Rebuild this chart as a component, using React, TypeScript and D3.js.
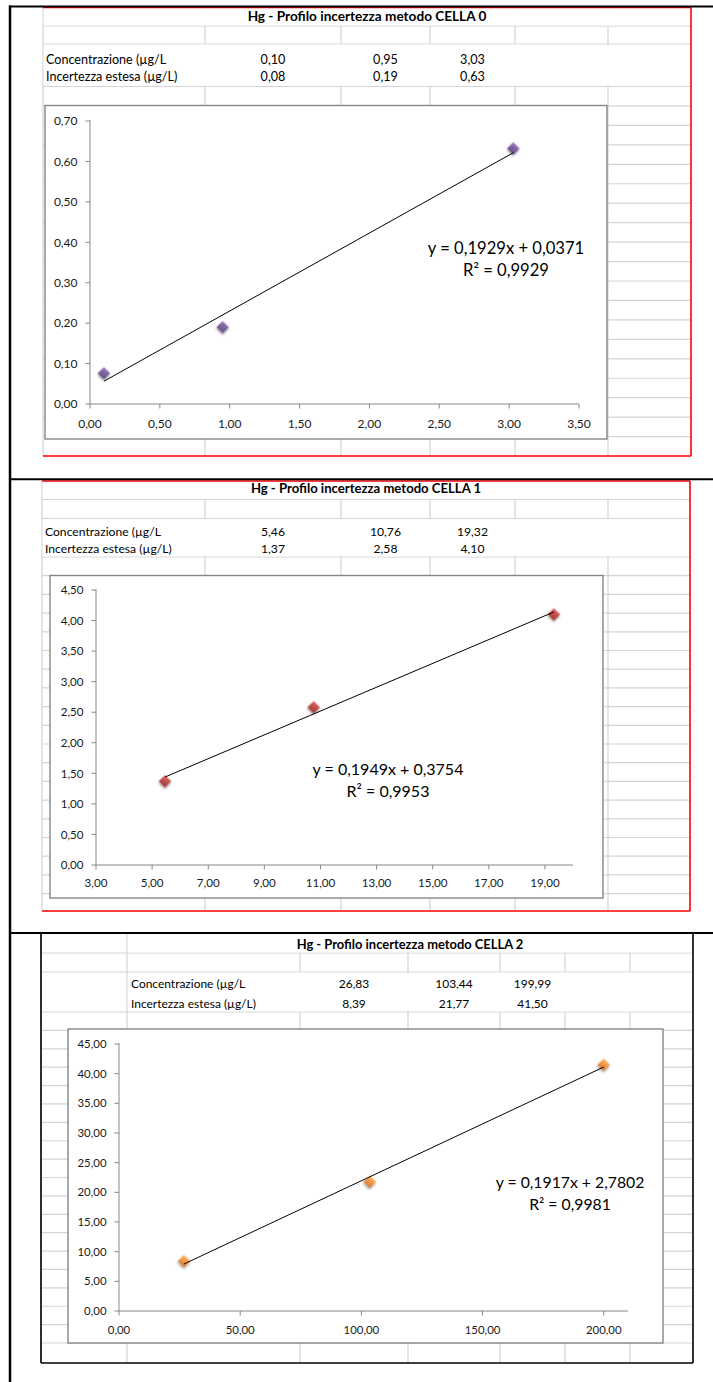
import React from "react";
import * as d3 from "d3";

const W = 713;
const H = 1382;

// ---------- DATA ----------
const titles = [
  "Hg - Profilo incertezza metodo CELLA 0",
  "Hg - Profilo incertezza metodo CELLA 1",
  "Hg - Profilo incertezza metodo CELLA 2",
];
const rowLabels = ["Concentrazione (µg/L", "Incertezza estesa (µg/L)"];

const concentrazione0 = [0.1, 0.95, 3.03];
const incertezza0 = [0.076, 0.19, 0.632];
const fit0 = { slope: 0.1929, intercept: 0.0371, r2: 0.9929 };
const xTicks0 = [0, 0.5, 1, 1.5, 2, 2.5, 3, 3.5];
const yTicks0 = [0, 0.1, 0.2, 0.3, 0.4, 0.5, 0.6, 0.7];

const concentrazione1 = [5.46, 10.76, 19.32];
const incertezza1 = [1.37, 2.58, 4.1];
const fit1 = { slope: 0.1949, intercept: 0.3754, r2: 0.9953 };
const xTicks1 = [3, 5, 7, 9, 11, 13, 15, 17, 19];
const yTicks1 = [0, 0.5, 1, 1.5, 2, 2.5, 3, 3.5, 4, 4.5];

const concentrazione2 = [26.83, 103.44, 199.99];
const incertezza2 = [8.39, 21.77, 41.5];
const fit2 = { slope: 0.1917, intercept: 2.7802, r2: 0.9981 };
const xTicks2 = [0, 50, 100, 150, 200];
const yTicks2 = [0, 5, 10, 15, 20, 25, 30, 35, 40, 45];

const markerColors = ["#8064A2", "#C0504D", "#F79646"];

// ---------- FORMAT ----------
const locale = d3.formatLocale({
  decimal: ",",
  thousands: ".",
  grouping: [3],
  currency: ["", "€"],
});
const f2 = locale.format(".2f");
const f4 = locale.format(".4f");

const FONT = "Lato, 'Noto Sans', sans-serif";
const GRID = "#D4D4D4";
const AXIS = "#868686";

// ---------- LAYOUT ----------
const sections = [
  {
    id: 0,
    title: titles[0],
    conc: concentrazione0,
    unc: incertezza0,
    fit: fit0,
    xTicks: xTicks0,
    yTicks: yTicks0,
    xDomain: [0, 3.5],
    yDomain: [0, 0.7],
    color: markerColors[0],
    img: [43, 7.5, 691, 456],
    borderColor: "#FF0000",
    borderSides: ["top", "right", "bottom"],
    cols: [43, 205, 341, 430, 515, 608],
    topRows: [26, 44],
    dataBlock: [44, 86.5],
    lowerStart: 86.5,
    rowStep: 19.45,
    mergeX: 43,
    titleBaseline: 21,
    labelX: 46,
    valueCenters: [273, 385.5, 472.5],
    textBaselines: [64, 81],
    chart: [45, 105.5, 607, 439],
    plot: { x0: 90, x1: 579, yb: 404, yt: 121 },
    eq: { cx: 506, b1: 254, b2: 276 },
    xLabelOffset: 24,
    s: 1,
  },
  {
    id: 1,
    title: titles[1],
    conc: concentrazione1,
    unc: incertezza1,
    fit: fit1,
    xTicks: xTicks1,
    yTicks: yTicks1,
    xDomain: [3, 20],
    yDomain: [0, 4.5],
    color: markerColors[1],
    img: [42, 481, 690, 911],
    borderColor: "#FF0000",
    borderSides: ["top", "right", "bottom"],
    cols: [42, 205, 341, 430, 515, 608],
    topRows: [499.5, 518.5],
    dataBlock: [518.5, 557],
    lowerStart: 557,
    rowStep: 18.7,
    mergeX: 42,
    titleBaseline: 493,
    labelX: 45,
    valueCenters: [273, 385.5, 472.5],
    textBaselines: [535.5, 553],
    chart: [50, 575.5, 603, 898],
    plot: { x0: 96, x1: 573, yb: 865, yt: 590 },
    eq: { cx: 388, b1: 775, b2: 797 },
    xLabelOffset: 22,
    s: 0.965,
  },
  {
    id: 2,
    title: titles[2],
    conc: concentrazione2,
    unc: incertezza2,
    fit: fit2,
    xTicks: xTicks2,
    yTicks: yTicks2,
    xDomain: [0, 210],
    yDomain: [0, 45],
    color: markerColors[2],
    img: [41, 933, 693, 1363],
    borderColor: "#000000",
    borderSides: ["top", "right", "bottom", "left"],
    cols: [41, 127, 300, 408, 500, 565, 630],
    topRows: [953, 972],
    dataBlock: [972, 1012],
    lowerStart: 1012,
    rowStep: 18.39,
    mergeX: 127,
    titleBaseline: 949,
    labelX: 131,
    valueCenters: [354, 454, 532.5],
    textBaselines: [988, 1008],
    chart: [68, 1029, 663, 1343],
    plot: { x0: 119, x1: 628, yb: 1311, yt: 1044 },
    eq: { cx: 570, b1: 1188, b2: 1210 },
    xLabelOffset: 23,
    s: 0.95,
  },
];

function Section({ cfg }: { cfg: any }) {
  const [x0, y0, x1, y1] = cfg.img;
  const s = cfg.s;
  const lower = d3.range(cfg.lowerStart, y1 - 3, cfg.rowStep);
  const hLines = [...cfg.topRows, ...lower];
  const xScale = d3
    .scaleLinear()
    .domain(cfg.xDomain)
    .range([cfg.plot.x0, cfg.plot.x1]);
  const yScale = d3
    .scaleLinear()
    .domain(cfg.yDomain)
    .range([cfg.plot.yb, cfg.plot.yt]);
  const [cx0, cy0, cx1, cy1] = cfg.chart;

  const xMin = d3.min(cfg.conc) as number;
  const xMax = d3.max(cfg.conc) as number;
  const trend = d3
    .line<number>()
    .x((d) => xScale(d))
    .y((d) => yScale(cfg.fit.slope * d + cfg.fit.intercept));

  const diamond = d3.symbol().type(d3.symbolSquare).size(78)();
  const gradId = `mgrad-${cfg.id}`;
  const base = d3.color(cfg.color)!;

  const borderPaths: string[] = [];
  if (cfg.borderSides.includes("top")) borderPaths.push(`M${x0},${y0}H${x1}`);
  if (cfg.borderSides.includes("right")) borderPaths.push(`M${x1},${y0}V${y1}`);
  if (cfg.borderSides.includes("bottom")) borderPaths.push(`M${x0},${y1}H${x1}`);
  if (cfg.borderSides.includes("left")) borderPaths.push(`M${x0},${y0}V${y1}`);

  return (
    <g>
      <defs>
        <linearGradient id={gradId} x1="0" y1="0" x2="0.3" y2="1">
          <stop offset="0%" stopColor={base.brighter(0.6).formatHex()} />
          <stop offset="55%" stopColor={cfg.color} />
          <stop offset="100%" stopColor={base.darker(0.4).formatHex()} />
        </linearGradient>
      </defs>
      <rect x={x0} y={y0} width={x1 - x0} height={y1 - y0} fill="#fff" />
      {/* spreadsheet grid */}
      {hLines.map((y, i) => (
        <line key={"h" + i} x1={x0} x2={x1} y1={y} y2={y} stroke={GRID} strokeWidth={1.2} />
      ))}
      {cfg.cols.map((x: number, i: number) => (
        <line key={"v" + i} x1={x} x2={x} y1={y0} y2={y1} stroke={GRID} strokeWidth={1.2} />
      ))}
      {/* merged title row */}
      <rect
        x={cfg.mergeX + 0.8}
        y={y0 + 1}
        width={x1 - cfg.mergeX - 1.6}
        height={cfg.topRows[0] - y0 - 1.6}
        fill="#fff"
      />
      {/* data block without gridlines */}
      <rect
        x={cfg.mergeX + 0.8}
        y={cfg.dataBlock[0] + 0.7}
        width={x1 - cfg.mergeX - 1.6}
        height={cfg.dataBlock[1] - cfg.dataBlock[0] - 1.4}
        fill="#fff"
      />
      <text
        x={(cfg.mergeX + x1) / 2}
        y={cfg.titleBaseline}
        textAnchor="middle"
        fontFamily={FONT}
        fontWeight="bold"
        fontSize={13.6 * s}
        fill="#000"
      >
        {cfg.title}
      </text>
      {rowLabels.map((lab, i) => (
        <text
          key={"l" + i}
          x={cfg.labelX}
          y={cfg.textBaselines[i]}
          fontFamily={FONT}
          fontSize={12.6 * s}
          fill="#000"
        >
          {lab}
        </text>
      ))}
      {cfg.conc.map((v: number, i: number) => (
        <text
          key={"c" + i}
          x={cfg.valueCenters[i]}
          y={cfg.textBaselines[0]}
          textAnchor="middle"
          fontFamily={FONT}
          fontSize={12.6 * s}
          fill="#000"
        >
          {f2(v)}
        </text>
      ))}
      {cfg.unc.map((v: number, i: number) => (
        <text
          key={"u" + i}
          x={cfg.valueCenters[i]}
          y={cfg.textBaselines[1]}
          textAnchor="middle"
          fontFamily={FONT}
          fontSize={12.6 * s}
          fill="#000"
        >
          {f2(v)}
        </text>
      ))}
      {/* chart area */}
      <rect
        x={cx0}
        y={cy0}
        width={cx1 - cx0}
        height={cy1 - cy0}
        fill="#fff"
        stroke={AXIS}
        strokeWidth={1.4}
      />
      {/* axes */}
      <line
        x1={cfg.plot.x0}
        x2={cfg.plot.x0}
        y1={cfg.plot.yt - 1}
        y2={cfg.plot.yb}
        stroke={AXIS}
        strokeWidth={1}
      />
      <line
        x1={cfg.plot.x0}
        x2={cfg.plot.x1}
        y1={cfg.plot.yb}
        y2={cfg.plot.yb}
        stroke={AXIS}
        strokeWidth={1}
      />
      {cfg.yTicks.map((t: number, i: number) => (
        <g key={"yt" + i}>
          <line
            x1={cfg.plot.x0 - 4.5}
            x2={cfg.plot.x0}
            y1={yScale(t)}
            y2={yScale(t)}
            stroke={AXIS}
            strokeWidth={1}
          />
          <text
            x={cfg.plot.x0 - 12.5}
            y={yScale(t)}
            dy="0.36em"
            textAnchor="end"
            fontFamily={FONT}
            fontSize={12 * s}
            fill="#1a1a1a"
          >
            {f2(t)}
          </text>
        </g>
      ))}
      {cfg.xTicks.map((t: number, i: number) => (
        <g key={"xt" + i}>
          <line
            x1={xScale(t)}
            x2={xScale(t)}
            y1={cfg.plot.yb}
            y2={cfg.plot.yb + 4.5}
            stroke={AXIS}
            strokeWidth={1}
          />
          <text
            x={xScale(t)}
            y={cfg.plot.yb + cfg.xLabelOffset}
            textAnchor="middle"
            fontFamily={FONT}
            fontSize={12 * s}
            fill="#1a1a1a"
          >
            {f2(t)}
          </text>
        </g>
      ))}
      {/* markers */}
      {cfg.conc.map((v: number, i: number) => (
        <path
          key={"m" + i}
          d={diamond}
          transform={`translate(${xScale(v)},${yScale(cfg.unc[i])}) rotate(45)`}
          fill={`url(#${gradId})`}
          filter="url(#mshadow)"
        />
      ))}
      {/* trendline */}
      <path d={trend([xMin, xMax]) || ""} fill="none" stroke="#000" strokeWidth={1} />
      {/* equation */}
      <text
        x={cfg.eq.cx}
        y={cfg.eq.b1}
        textAnchor="middle"
        fontFamily={FONT}
        fontSize={16.6 * s}
        fill="#000"
      >
        {`y = ${f4(cfg.fit.slope)}x + ${f4(cfg.fit.intercept)}`}
      </text>
      <text
        x={cfg.eq.cx}
        y={cfg.eq.b2}
        textAnchor="middle"
        fontFamily={FONT}
        fontSize={16.6 * s}
        fill="#000"
      >
        {`R² = ${f4(cfg.fit.r2)}`}
      </text>
      {/* image border */}
      {borderPaths.map((d, i) => (
        <path key={"b" + i} d={d} stroke={cfg.borderColor} strokeWidth={1.6} fill="none" />
      ))}
    </g>
  );
}

export default function App() {
  const docLines = [6.5, 479.3, 933];
  return (
    <svg
      width={W}
      height={H}
      style={{ position: "absolute", left: 0, top: 0, background: "#fff" }}
    >
      <defs>
        <filter id="mshadow" x="-60%" y="-60%" width="220%" height="220%">
          <feDropShadow dx="0.8" dy="1.2" stdDeviation="1.3" floodColor="#000" floodOpacity="0.45" />
        </filter>
      </defs>
      <rect x={0} y={0} width={W} height={H} fill="#fff" />
      {sections.map((cfg) => (
        <Section key={cfg.id} cfg={cfg} />
      ))}
      {docLines.map((y, i) => (
        <line key={"d" + i} x1={9} x2={W} y1={y} y2={y} stroke="#000" strokeWidth={2} />
      ))}
      <line x1={10} x2={10} y1={5.5} y2={H} stroke="#000" strokeWidth={2.5} />
    </svg>
  );
}
